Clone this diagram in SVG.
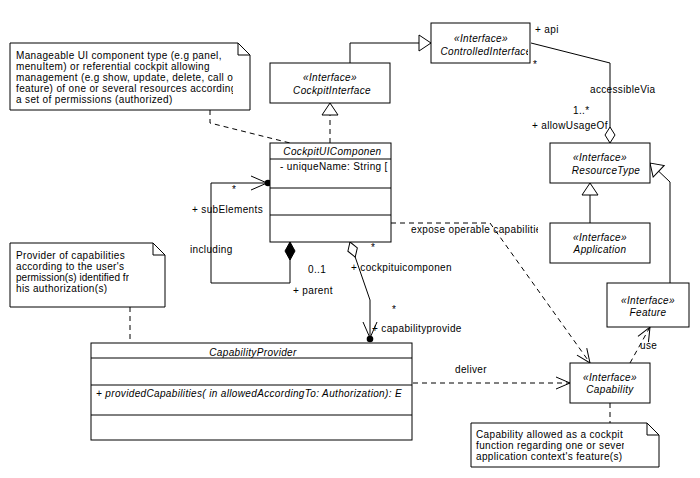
<svg xmlns="http://www.w3.org/2000/svg" width="700" height="478" viewBox="0 0 700 478">
<style>
.bg{fill:#fff}
.b{fill:#fff;stroke:#000;stroke-width:1}
.l{fill:none;stroke:#000;stroke-width:1}
.d{stroke-dasharray:5,4}
.t{font-family:"Liberation Sans",Arial,sans-serif;font-size:10px;letter-spacing:0.35px;fill:#000}
.i{font-style:italic}
.m{text-anchor:middle}
</style>
<defs>
<marker id="open" markerUnits="userSpaceOnUse" markerWidth="16" markerHeight="14" refX="14" refY="6" orient="auto" overflow="visible">
<path d="M0,0 L14,6 L0,12" fill="none" stroke="#000"/>
</marker>
<marker id="tri" markerUnits="userSpaceOnUse" markerWidth="14" markerHeight="18" refX="12" refY="8" orient="auto" overflow="visible">
<path d="M0,0 L12,8 L0,16 Z" fill="#fff" stroke="#000"/>
</marker>
<marker id="dh" markerUnits="userSpaceOnUse" markerWidth="18" markerHeight="12" refX="16" refY="5" orient="auto-start-reverse" overflow="visible">
<path d="M0,5 L8,0 L16,5 L8,10 Z" fill="#fff" stroke="#000"/>
</marker>
<marker id="df" markerUnits="userSpaceOnUse" markerWidth="20" markerHeight="12" refX="18" refY="5" orient="auto-start-reverse" overflow="visible">
<path d="M0,5 L9,0 L18,5 L9,10 Z" fill="#000" stroke="#000"/>
</marker>
<marker id="dotarrow" markerUnits="userSpaceOnUse" markerWidth="24" markerHeight="16" refX="19" refY="7" orient="auto" overflow="visible">
<path d="M0,0 L16,7 L0,14" fill="none" stroke="#000"/>
<circle cx="17" cy="7" r="3.3" fill="#000"/>
</marker>
<clipPath id="cN1"><rect x="12" y="44" width="221" height="64"/></clipPath>
<clipPath id="cN2"><rect x="12" y="244" width="117" height="60"/></clipPath>
<clipPath id="cN3"><rect x="472" y="424" width="152" height="40"/></clipPath>
<clipPath id="cCI"><rect x="272" y="64" width="100" height="38"/></clipPath>
<clipPath id="cCtl"><rect x="432" y="24" width="96" height="38"/></clipPath>
<clipPath id="cRT"><rect x="552" y="144" width="93" height="38"/></clipPath>
<clipPath id="cUI"><rect x="271" y="144" width="110" height="14"/></clipPath>
<clipPath id="cUA"><rect x="271" y="160" width="118" height="27"/></clipPath>
<clipPath id="cCP"><rect x="92" y="344" width="317" height="95"/></clipPath>
<clipPath id="cLab"><rect x="400" y="222" width="138" height="14"/></clipPath>
</defs>
<rect class="bg" x="0" y="0" width="700" height="478"/>

<g id="connectors">
<path class="l d" d="M210,110 V123 L290,143"/>
<path class="l d" d="M130,307 V343"/>
<path class="l d" d="M610,403 V423"/>
<path class="l" d="M350,63 V43 H431" marker-end="url(#tri)"/>
<path class="l d" d="M330,143 V103" marker-end="url(#tri)"/>
<path class="l" d="M590,223 V183" marker-end="url(#tri)"/>
<path class="l" d="M670,283 V182 L650,163" marker-end="url(#tri)"/>
<path class="l" d="M531,43 L610,63 V143" marker-end="url(#dh)"/>
<path class="l" d="M290,242 V283 H211 V183 H270" marker-start="url(#df)" marker-end="url(#dotarrow)"/>
<path class="l" d="M350,242 L370,300 V341" marker-start="url(#dh)" marker-end="url(#dotarrow)"/>
<path class="l d" d="M391,223 H490 L590,363" marker-end="url(#open)"/>
<path class="l d" d="M413,383 H570" marker-end="url(#open)"/>
<path class="l d" d="M630,363 L650,327" marker-end="url(#open)"/>
<text class="t" x="535" y="33">+ api</text>
<text class="t" x="533" y="68">*</text>
<text class="t" x="590" y="93">accessibleVia</text>
<text class="t" x="573" y="114">1..*</text>
<text class="t" x="532" y="129">+ allowUsageOf</text>
<text class="t" x="232" y="193">*</text>
<text class="t" x="192" y="213">+ subElements</text>
<text class="t" x="190" y="253">including</text>
<text class="t" x="308" y="273">0..1</text>
<text class="t" x="293" y="294">+ parent</text>
<text class="t" x="371" y="251">*</text>
<text class="t" x="351" y="271">+ cockpituicomponen</text>
<text class="t" x="392" y="313">*</text>
<text class="t" x="372" y="332">+ capabilityprovide</text>
<text class="t" x="411" y="233" clip-path="url(#cLab)">expose operable capabilitie</text>
<text class="t" x="455" y="373">deliver</text>
<text class="t" x="640" y="349">use</text>
</g>

<g id="note-ui">
<path class="b" d="M10,43 H238 L250,55 V110 H10 Z"/>
<path class="l" d="M238,43 V55 H250"/>
<g clip-path="url(#cN1)">
<text class="t" x="16" y="59">Manageable UI component type (e.g panel,</text>
<text class="t" x="16" y="70">menuItem) or referential cockpit allowing</text>
<text class="t" x="16" y="81">management (e.g show, update, delete, call of</text>
<text class="t" x="16" y="92">feature) of one or several resources according</text>
<text class="t" x="16" y="103">a set of permissions (authorized)</text>
</g>
</g>

<g id="CockpitInterface">
<rect class="b" x="270" y="63" width="120" height="40"/>
<g clip-path="url(#cCI)">
<text class="t i m" x="330" y="81">«Interface»</text>
<text class="t i m" x="332" y="94">CockpitInterface</text>
</g>
</g>

<g id="ControlledInterface">
<rect class="b" x="431" y="23" width="99" height="40"/>
<g clip-path="url(#cCtl)">
<text class="t i m" x="481" y="42">«Interface»</text>
<text class="t i m" x="486" y="55">ControlledInterface</text>
</g>
</g>

<g id="ResourceType">
<rect class="b" x="550" y="143" width="100" height="40"/>
<g clip-path="url(#cRT)">
<text class="t i m" x="600" y="161">«Interface»</text>
<text class="t i m" x="606" y="174">ResourceType</text>
</g>
</g>

<g id="Application">
<rect class="b" x="550" y="223" width="100" height="40"/>
<text class="t i m" x="600" y="241">«Interface»</text>
<text class="t i m" x="600" y="253">Application</text>
</g>

<g id="Feature">
<rect class="b" x="607" y="283" width="82" height="44"/>
<text class="t i m" x="648" y="304">«Interface»</text>
<text class="t i m" x="648" y="316">Feature</text>
</g>

<g id="Capability">
<rect class="b" x="570" y="363" width="80" height="40"/>
<text class="t i m" x="610" y="381">«Interface»</text>
<text class="t i m" x="610" y="393">Capability</text>
</g>

<g id="CockpitUIComponent">
<rect class="b" x="270" y="143" width="121" height="99"/>
<path class="l" d="M270,159 H391 M270,188 H391 M270,215 H391"/>
<text class="t i m" x="334" y="155" clip-path="url(#cUI)">CockpitUIComponent</text>
<text class="t" x="280" y="170" clip-path="url(#cUA)">- uniqueName: String [</text>
</g>

<g id="note-provider">
<path class="b" d="M10,243 H153 L165,255 V307 H10 Z"/>
<path class="l" d="M153,243 V255 H165"/>
<g clip-path="url(#cN2)">
<text class="t" x="16" y="259">Provider of capabilities</text>
<text class="t" x="16" y="270">according to the user's</text>
<text class="t" x="16" y="281" style="letter-spacing:0.05px">permission(s) identified from</text>
<text class="t" x="16" y="292">his authorization(s)</text>
</g>
</g>

<g id="CapabilityProvider">
<rect class="b" x="91" y="343" width="321" height="97"/>
<path class="l" d="M91,358 H412 M91,385 H412 M91,415 H412"/>
<g clip-path="url(#cCP)">
<text class="t i m" x="253" y="356">CapabilityProvider</text>
<text class="t i" x="96" y="397">+ providedCapabilities(  in allowedAccordingTo: Authorization): E</text>
</g>
</g>

<g id="note-capability">
<path class="b" d="M471,423 H647 L659,435 V467 H471 Z"/>
<path class="l" d="M647,423 V435 H659"/>
<g clip-path="url(#cN3)">
<text class="t" x="476" y="438">Capability allowed as a cockpit</text>
<text class="t" x="476" y="449">function regarding one or several</text>
<text class="t" x="476" y="460">application context's feature(s)</text>
</g>
</g>
</svg>
